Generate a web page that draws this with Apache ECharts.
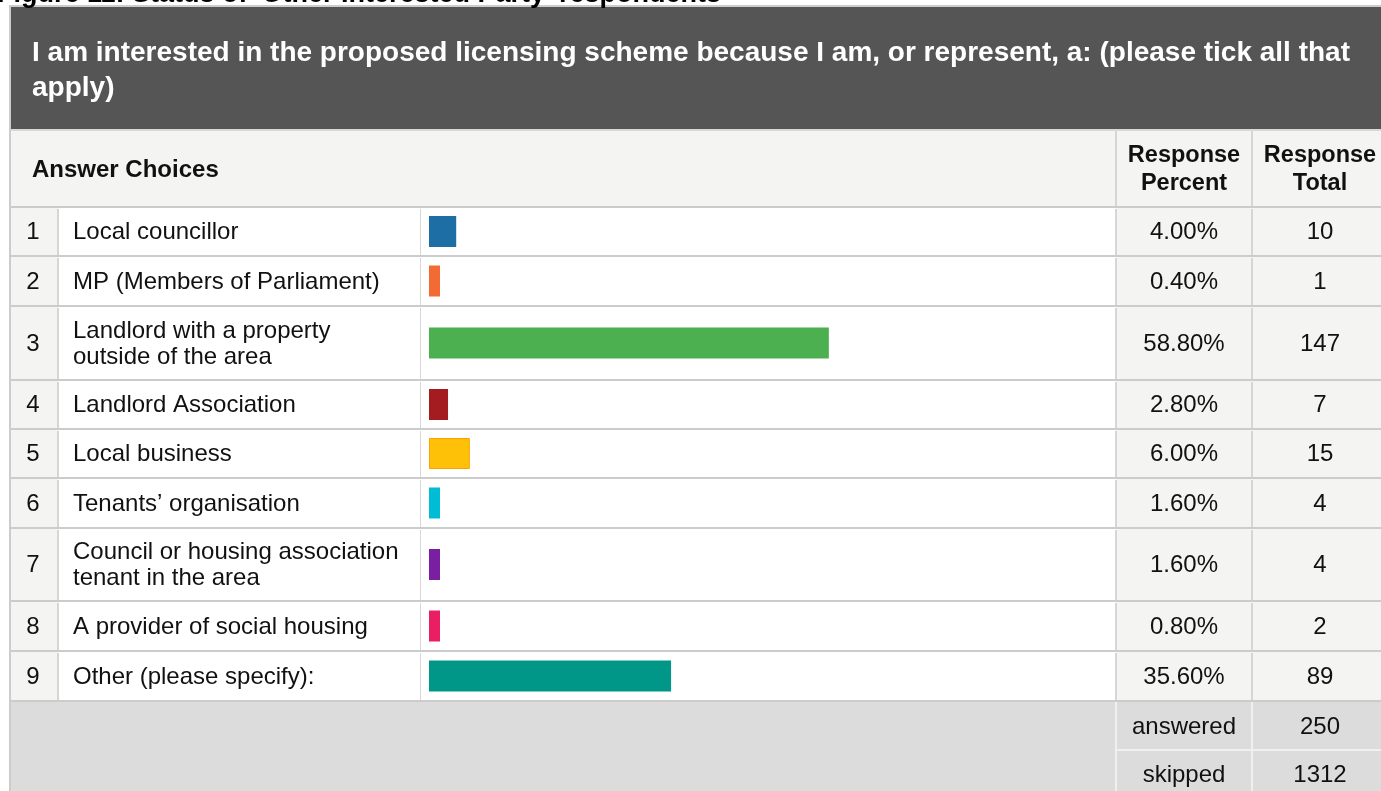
<!DOCTYPE html>
<html><head><meta charset="utf-8">
<script src="https://cdn.jsdelivr.net/npm/echarts@6/dist/echarts.min.js"></script>
<style>html,body{margin:0;padding:0;background:#fff}#c{width:1381px;height:791px}</style>
</head><body><div id="c"></div>
<script>
const figureTitle = "Figure 11: Status of 'Other Interested Party' respondents";
const question = ["I am interested in the proposed licensing scheme because I am, or represent, a: (please tick all that", "apply)"];
const rowNumbers = ["1","2","3","4","5","6","7","8","9"];
const categories = ["Local councillor","MP (Members of Parliament)","Landlord with a property\noutside of the area","Landlord Association","Local business","Tenants\u2019 organisation","Council or housing association\ntenant in the area","A provider of social housing","Other (please specify):"];
const percents = [4.00, 0.40, 58.80, 2.80, 6.00, 1.60, 1.60, 0.80, 35.60];
const totals = [10, 1, 147, 7, 15, 4, 4, 2, 89];
const answered = 250;
const skipped = 1312;

const barColors = ["#1c6ea5","#f26b35","#4caf50","#a51c20","#ffc107","#00bcd4","#7b1fa2","#e91e63","#009688"];
const barBorders = [null,null,null,null,"#ffa000",null,null,null,null];
const rowBounds = [207,256,306,380,429,478,528,601,651,701];
const FAM = "Liberation Sans";
const LINE = "#cccccc";
const LIGHT = "#f4f4f2";

function txt(x, y, text, size, bold, fill, align, extra){
  const st = {text:text, fontFamily:FAM, fontSize:size, fontWeight:bold?'bold':'normal', fill:fill||"#111",
    textAlign:align||'left', textVerticalAlign:'middle'};
  if (extra) Object.assign(st, extra);
  return {type:'text', x:x, y:y, z:10, style:st};
}

const g = [];
g.push(txt(-3, -5.5, figureTitle, 27, true, "#000"));
g.push({type:'rect', shape:{x:9,y:6,width:2,height:800}, style:{fill:LINE}, z:1});
g.push({type:'rect', shape:{x:9,y:5,width:1400,height:2}, style:{fill:LINE}, z:1});
g.push({type:'rect', shape:{x:11,y:7,width:1380,height:122}, style:{fill:"#545554"}, z:1});
g.push(txt(32, 53, question[0], 28, true, "#fff"));
g.push(txt(32, 88, question[1], 28, true, "#fff"));
g.push({type:'rect', shape:{x:11,y:130,width:1380,height:77}, style:{fill:LIGHT}, z:1});
g.push({type:'rect', shape:{x:11,y:129,width:1380,height:2}, style:{fill:"#d8d8d8"}, z:2});
g.push(txt(32, 170, "Answer Choices", 24, true));
g.push(txt(1184, 170, "Response\nPercent", 23.5, true, null, 'center', {lineHeight:28}));
g.push(txt(1320, 170, "Response\nTotal", 23.5, true, null, 'center', {lineHeight:28}));

for (let i=0;i<categories.length;i++){
  const t=rowBounds[i], b=rowBounds[i+1], h=b-t, m=(t+b)/2+1;
  g.push({type:'rect', shape:{x:11,y:t,width:47,height:h}, style:{fill:LIGHT}, z:1});
  g.push({type:'rect', shape:{x:58,y:t,width:1058,height:h}, style:{fill:"#fff"}, z:1});
  g.push({type:'rect', shape:{x:1116,y:t,width:270,height:h}, style:{fill:LIGHT}, z:1});
  g.push(txt(33, m, rowNumbers[i], 24, false, null, 'center'));
  g.push(txt(73, m, categories[i], 24, false, null, 'left', {lineHeight:26}));
  g.push(txt(1184, m, percents[i].toFixed(2)+"%", 24, false, null, 'center'));
  g.push(txt(1320, m, String(totals[i]), 24, false, null, 'center'));
  g.push({type:'rect', shape:{x:57,y:t+2,width:2,height:h-2}, style:{fill:"#d6d6d6"}, z:2});
  g.push({type:'rect', shape:{x:420,y:t+2,width:1,height:h-2}, style:{fill:"#d6d6d6"}, z:2});
  g.push({type:'rect', shape:{x:1115,y:t+2,width:2,height:h-2}, style:{fill:"#d6d6d6"}, z:2});
  g.push({type:'rect', shape:{x:1251,y:t+2,width:2,height:h-2}, style:{fill:"#d6d6d6"}, z:2});
}
for (let i=0;i<rowBounds.length;i++){
  g.push({type:'rect', shape:{x:11,y:rowBounds[i]-1,width:1380,height:2}, style:{fill:LINE}, z:3});
}
g.push({type:'rect', shape:{x:1115,y:131,width:2,height:76}, style:{fill:"#d6d6d6"}, z:2});
g.push({type:'rect', shape:{x:1251,y:131,width:2,height:76}, style:{fill:"#d6d6d6"}, z:2});
g.push({type:'rect', shape:{x:11,y:702,width:1380,height:100}, style:{fill:"#dcdcdc"}, z:1});
g.push({type:'rect', shape:{x:1115,y:702,width:2,height:100}, style:{fill:"#f0f0f0"}, z:2});
g.push({type:'rect', shape:{x:1251,y:702,width:2,height:100}, style:{fill:"#f0f0f0"}, z:2});
g.push({type:'rect', shape:{x:1116,y:749,width:270,height:2}, style:{fill:"#f0f0f0"}, z:2});
g.push(txt(1184, 727, "answered", 24, false, null, 'center'));
g.push(txt(1320, 727, String(answered), 24, false, null, 'center'));
g.push(txt(1184, 775, "skipped", 24, false, null, 'center'));
g.push(txt(1320, 775, String(skipped), 24, false, null, 'center'));

const grids=[], xAxes=[], yAxes=[], series=[];
for (let i=0;i<categories.length;i++){
  const t=rowBounds[i], b=rowBounds[i+1];
  grids.push({left:429, width:680, top:t, height:b-t, containLabel:false});
  xAxes.push({type:'value', gridIndex:i, min:0, max:100, show:false});
  yAxes.push({type:'category', gridIndex:i, data:[categories[i]], show:false});
  const st = {color:barColors[i]};
  if (barBorders[i]) { st.borderColor = barBorders[i]; st.borderWidth = 1; }
  series.push({type:'bar', xAxisIndex:i, yAxisIndex:i, barWidth:31, barMinHeight:11, z:20, silent:true, animation:false,
    data:[{value:percents[i], itemStyle:st}]});
}

const chart = echarts.init(document.getElementById('c'), null, {renderer:'canvas'});
chart.setOption({
  animation:false,
  graphic:{elements:g},
  grid:grids, xAxis:xAxes, yAxis:yAxes, series:series
});
</script></body></html>
